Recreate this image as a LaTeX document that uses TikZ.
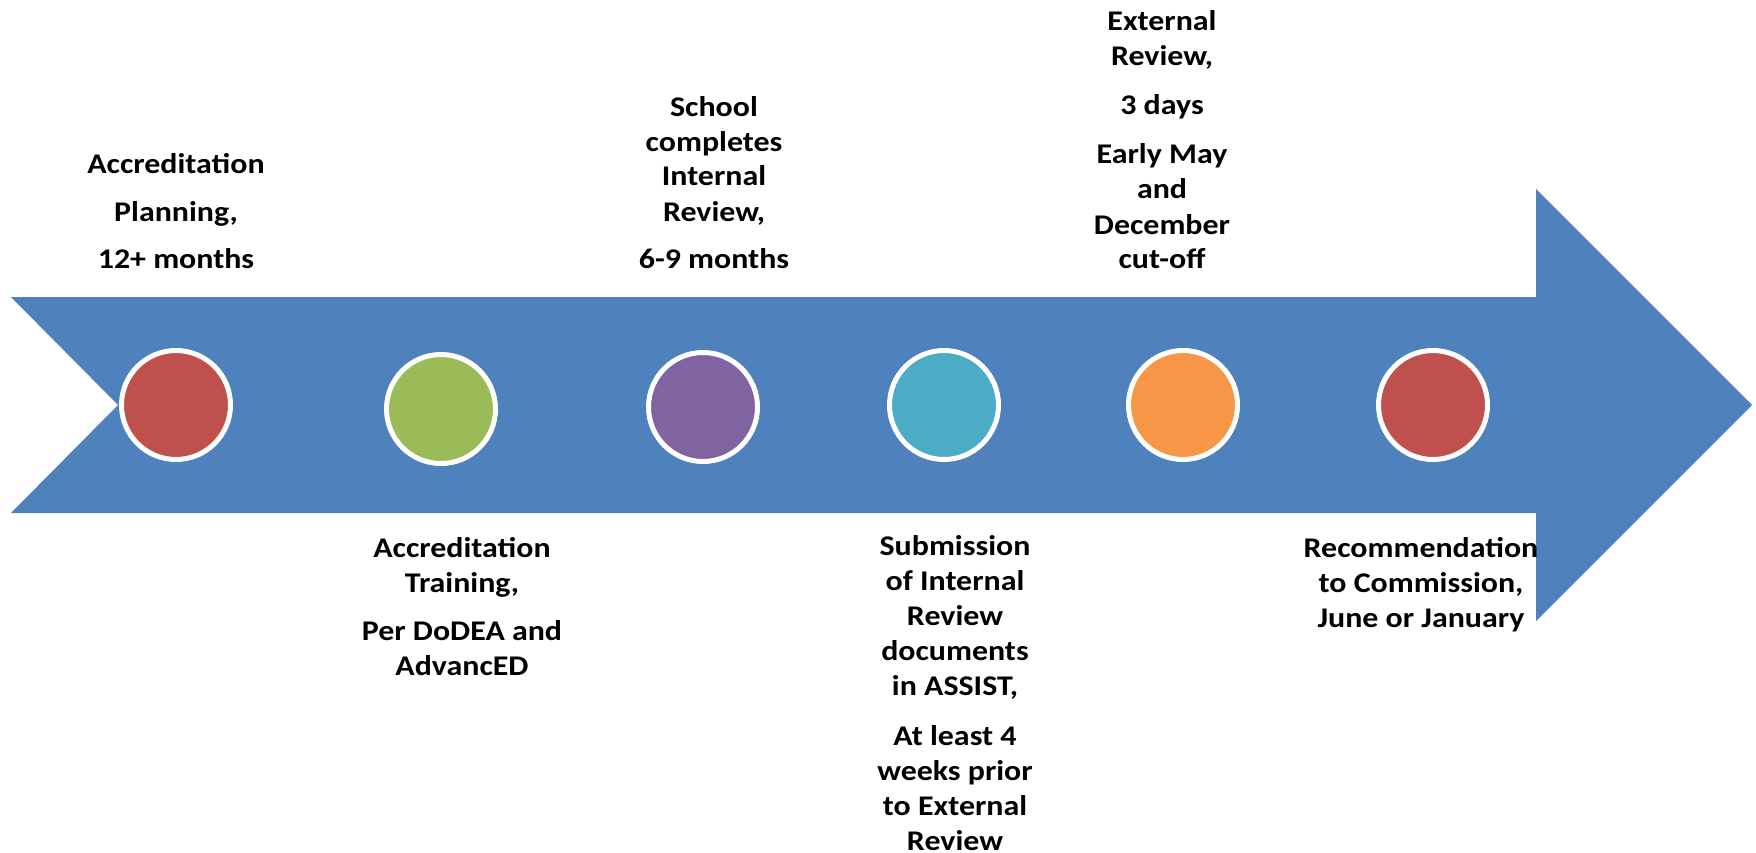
\documentclass[tikz,border=0pt]{standalone}
\usepackage{fontspec}
\setmainfont{Carlito}[FakeStretch=1.12]
\definecolor{arrowblue}{HTML}{4F81BD}
\definecolor{dotred}{HTML}{C0504D}
\definecolor{dotgreen}{HTML}{9BBB59}
\definecolor{dotpurple}{HTML}{8064A2}
\definecolor{dotcyan}{HTML}{4BACC6}
\definecolor{dotorange}{HTML}{F79646}
\begin{document}
\begin{tikzpicture}[x=1pt,y=-1pt,
  milestone/.style={circle, draw=white, line width=5pt, minimum size=109pt, inner sep=0pt},
  lbl/.style={font=\fontsize{28.5}{35}\selectfont\bfseries, align=center, inner sep=0pt, anchor=base, text=black}]
\useasboundingbox (0,0) rectangle (1756,853);

% timeline arrow with notched tail
\fill[arrowblue] (11,297) -- (1536,297) -- (1536,189) -- (1752,405)
  -- (1536,621) -- (1536,513) -- (11,513) -- (118,405) -- cycle;

% milestones
\node[milestone, fill=dotred]    (m1) at (176,405) {};
\node[milestone, fill=dotgreen]  (m2) at (441,409) {};
\node[milestone, fill=dotpurple] (m3) at (703,407) {};
\node[milestone, fill=dotcyan]   (m4) at (944,405) {};
\node[milestone, fill=dotorange] (m5) at (1183,405) {};
\node[milestone, fill=dotred]    (m6) at (1433,405) {};

% labels above the arrow (placed by the baseline of their last line)
\node[lbl] (t1) at (176,269) {Accreditation\\[13pt]Planning,\\[13pt]12+ months};
\node[lbl] (t3) at (714,269) {School\\completes\\Internal\\Review,\\[13pt]6-9 months};
\node[lbl] (t5) at (1162,269) {External\\Review,\\[14pt]3 days\\[14pt]Early May\\and\\December\\cut-off};

% labels below the arrow
\node[lbl] (b2) at (462,675) {Accreditation\\Training,\\[13pt]Per DoDEA and\\AdvancED};
\node[lbl] (b4) at (955,850) {Submission\\of Internal\\Review\\documents\\in ASSIST,\\[15pt]At least 4\\weeks prior\\to External\\Review};
\node[lbl] (b6) at (1421,627) {Recommendation\\to Commission,\\June or January};
\end{tikzpicture}
\end{document}
